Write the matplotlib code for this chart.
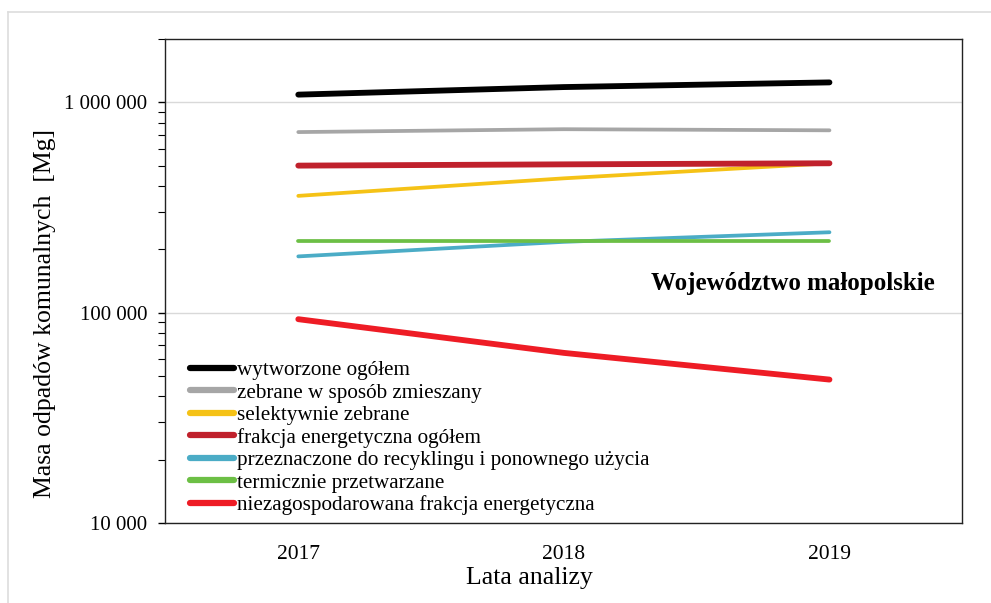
import numpy as np
import matplotlib
matplotlib.use("Agg")
from matplotlib import pyplot as plt
from matplotlib.ticker import FixedLocator, LogLocator, NullFormatter

plt.rcParams["font.family"] = ["Liberation Serif", "DejaVu Serif"]

years = [2017, 2018, 2019]

wytworzone = [1088000, 1182000, 1244000]
zebrane_zmieszane = [722000, 745000, 736000]
selektywnie = [359000, 435000, 513000]
frakcja_energ = [500000, 507000, 513000]
recykling = [185000, 217000, 241000]
termicznie = [219000, 219000, 219000]
niezagospodarowana = [93000, 64300, 48000]

series = [
    ("wytworzone ogółem", wytworzone, "#000000", 4.2),
    ("zebrane w sposób zmieszany", zebrane_zmieszane, "#a6a6a6", 2.7),
    ("selektywnie zebrane", selektywnie, "#f5c216", 2.7),
    ("frakcja energetyczna ogółem", frakcja_energ, "#c0212c", 4.2),
    ("przeznaczone do recyklingu i ponownego użycia", recykling, "#4bacc6", 2.7),
    ("termicznie przetwarzane", termicznie, "#6cbf45", 2.7),
    ("niezagospodarowana frakcja energetyczna", niezagospodarowana, "#ee1c25", 4.2),
]

y_ticks = [10000, 100000, 1000000]
y_tick_labels = ["10 000", "100 000", "1 000 000"]

fig = plt.figure(figsize=(9.91, 6.03), dpi=100)
ax = fig.add_axes([0.167, 0.133, 0.804, 0.803])

# light page frame
fig.add_artist(plt.Line2D([8 / 991, 8 / 991], [0, 1 - 12 / 603], color="#dddddd", lw=1.2,
                          transform=fig.transFigure))
fig.add_artist(plt.Line2D([8 / 991, 1], [1 - 12 / 603, 1 - 12 / 603], color="#dddddd", lw=1.2,
                          transform=fig.transFigure))

for label, vals, color, lw in series:
    ax.plot(years, vals, color=color, lw=lw, solid_capstyle="round", label=label)

ax.set_yscale("log")
ax.set_ylim(10000, 2010000)
ax.set_xlim(2016.5, 2019.5)

ax.yaxis.set_major_locator(FixedLocator(y_ticks))
ax.set_yticklabels(y_tick_labels)
ax.yaxis.set_minor_locator(LogLocator(base=10, subs=np.arange(2, 10)))
ax.yaxis.set_minor_formatter(NullFormatter())
ax.tick_params(axis="y", which="major", direction="out", length=5, width=1, labelsize=15, pad=8)
ax.tick_params(axis="y", which="minor", direction="out", length=5, width=0.8)

ax.set_xticks(years)
ax.set_xticklabels([str(y) for y in years])
ax.tick_params(axis="x", length=0, labelsize=15.5, pad=16)

ax.grid(True, axis="y", which="major", color="#d9d9d9", lw=1)
ax.set_axisbelow(True)
for sp in ax.spines.values():
    sp.set_color("#222222")
    sp.set_linewidth(1)

ax.set_ylabel("Masa odpadów komunalnych  [Mg]", fontsize=18.5)
ax.yaxis.set_label_coords(-0.137, 0.433)
ax.set_xlabel("Lata analizy", fontsize=18.5)
ax.xaxis.set_label_coords(0.457, -0.092)

ax.text(0.966, 0.495, "Województwo małopolskie", transform=ax.transAxes, ha="right",
        va="center", fontsize=18, fontweight="bold")

leg = ax.legend(loc="lower left", bbox_to_anchor=(0.015, -0.011), frameon=False, fontsize=15.2,
                handlelength=2.1, handletextpad=0.1, labelspacing=0.13, borderaxespad=0.2)
for h in leg.get_lines():
    h.set_linewidth(4.5)

fig.savefig("out.png", dpi=100)
